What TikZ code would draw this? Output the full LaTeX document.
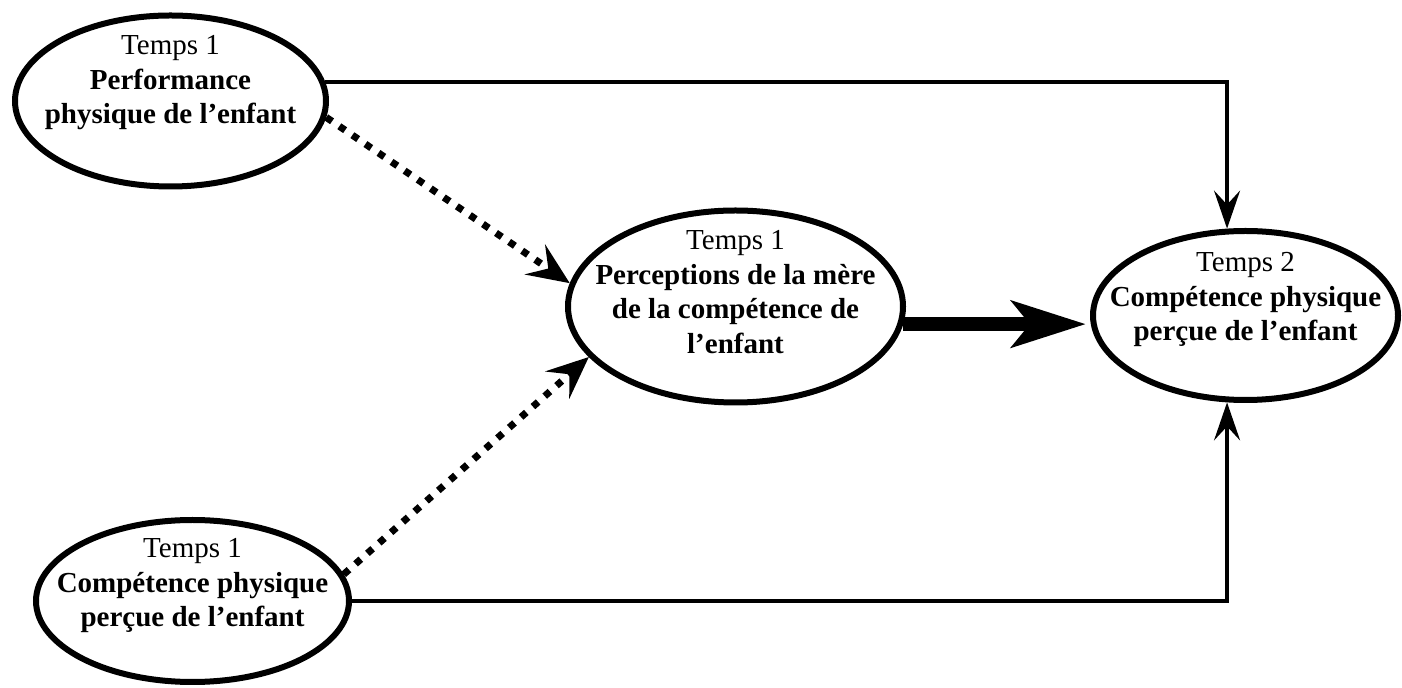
\documentclass[tikz,border=0pt]{standalone}
\usepackage{fontspec}
\setmainfont{Liberation Serif}
\usetikzlibrary{shapes.geometric,arrows.meta}

\begin{document}
\begin{tikzpicture}[x=0.5pt,y=-0.5pt,
  bulle/.style={ellipse,draw,line width=3pt,inner sep=0pt},
  texte/.style={align=center,inner sep=0pt,font=\fontsize{14.5}{17.25}\selectfont},
  fleche/.style={line width=1.9pt,-{Stealth[length=19pt,width=13pt,inset=7pt]}},
  pointille/.style={line width=3.5pt,dash pattern=on 3.5pt off 4.4pt,-{Stealth[length=21pt,width=18pt,inset=8pt]}},
  grosse/.style={line width=7pt,shorten >=2pt,-{Stealth[length=37pt,width=23pt,inset=9pt]}}]
\useasboundingbox (0,0) rectangle (1402,688);

\node [bulle,minimum width=155.5pt,minimum height=85.5pt] (perf) at (170.5,101) {};
\node [bulle,minimum width=167.5pt,minimum height=96pt] (mere) at (735.5,306.5) {};
\node [bulle,minimum width=152.5pt,minimum height=84.5pt] (post) at (1245.5,315.5) {};
\node [bulle,minimum width=156.5pt,minimum height=81pt] (pbas) at (192.5,601) {};

\node [texte] (perf-t) at (170.5,82.8) {Temps 1\\\textbf{Performance}\\\textbf{physique de l’enfant}};
\node [texte] (mere-t) at (735.5,292) {Temps 1\\\textbf{Perceptions de la mère}\\\textbf{de la compétence de}\\\textbf{l’enfant}};
\node [texte] (post-t) at (1245.5,299.8) {Temps 2\\\textbf{Compétence physique}\\\textbf{perçue de l’enfant}};
\node [texte] (pbas-t) at (192.5,585.8) {Temps 1\\\textbf{Compétence physique}\\\textbf{perçue de l’enfant}};

\draw [fleche] (perf.7) -| (post.102);
\draw [fleche] (pbas.east) -| (post.258);
\draw [pointille] (perf.354) -- (mere.172);
\draw [pointille] (pbas.10) -- (mere.199);
\draw [grosse] (mere.354) -- (mere.354 -| post.west);

\end{tikzpicture}
\end{document}
